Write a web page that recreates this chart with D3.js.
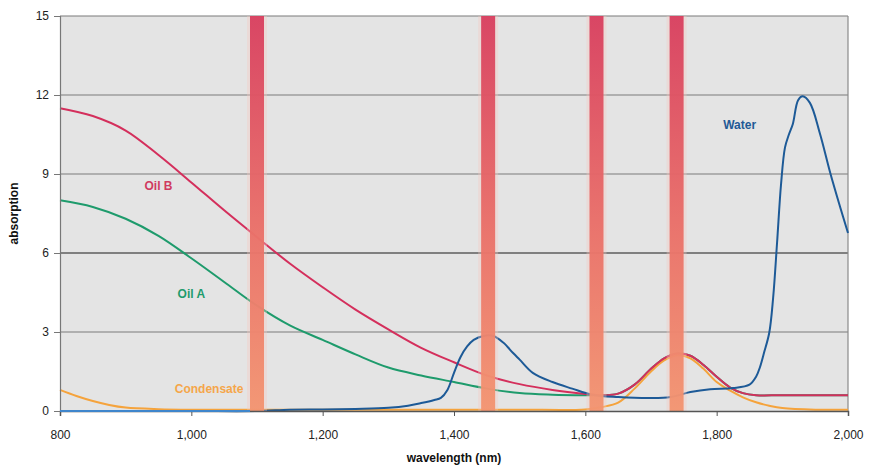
<!DOCTYPE html>
<html lang="en">
<head>
  <meta charset="UTF-8">
  <title>Absorption spectra</title>
  <style>
    body { margin: 0; padding: 0; background: #fff; font-family: Arial, 'Liberation Sans', sans-serif; }
    svg { display: block; }
    .tick text { font-size: 12px; fill: #222; }
    .series { fill: none; stroke-width: 2px; stroke-linejoin: round; }
    .label { font-size: 12px; font-weight: bold; }
    .axis-title { font-size: 12px; font-weight: bold; fill: #111; }
  </style>
</head>
<body>
  <svg width="869" height="472"></svg>

  <script src="https://d3js.org/d3.v7.min.js"></script>
  <script>
    // wavelength ticks and absorption ticks
    const xTicks = [800, 1000, 1200, 1400, 1600, 1800, 2000];
    const yTicks = [0, 3, 6, 9, 12, 15];

    // marked bands (nm)
    const bands = [1100, 1452, 1617, 1739];

    const oilBnm = [800, 850, 900, 950, 1000, 1050, 1100, 1150, 1200, 1250, 1300, 1350, 1400, 1450, 1500, 1550, 1600, 1625, 1650, 1675, 1700, 1720, 1740, 1760, 1780, 1800, 1820, 1840, 1860, 1900, 2000];
    const oilB = [11.5, 11.2, 10.65, 9.72, 8.68, 7.62, 6.6, 5.6, 4.7, 3.85, 3.1, 2.4, 1.85, 1.35, 1.02, 0.8, 0.65, 0.6, 0.66, 1.0, 1.6, 2.0, 2.18, 2.1, 1.75, 1.3, 0.9, 0.68, 0.6, 0.6, 0.6];

    const oilAnm = [800, 850, 900, 950, 1000, 1050, 1100, 1150, 1200, 1250, 1300, 1350, 1400, 1450, 1500, 1550, 1600, 1625, 1650, 1675, 1700, 1720, 1740, 1760, 1780, 1800, 1820, 1840, 1860, 1900, 2000];
    const oilA = [8.0, 7.75, 7.3, 6.65, 5.8, 4.9, 4.0, 3.25, 2.7, 2.15, 1.65, 1.35, 1.1, 0.85, 0.68, 0.62, 0.6, 0.6, 0.66, 1.0, 1.6, 2.0, 2.18, 2.1, 1.75, 1.3, 0.9, 0.68, 0.6, 0.6, 0.6];

    const condNm = [800, 825, 850, 875, 900, 950, 1000, 1100, 1200, 1300, 1400, 1500, 1600, 1625, 1650, 1675, 1700, 1720, 1740, 1760, 1780, 1800, 1820, 1840, 1860, 1880, 1900, 1950, 2000];
    const cond = [0.8, 0.57, 0.38, 0.23, 0.13, 0.07, 0.05, 0.05, 0.05, 0.05, 0.05, 0.05, 0.06, 0.15, 0.32, 0.85, 1.5, 1.92, 2.12, 2.0, 1.6, 1.1, 0.78, 0.52, 0.33, 0.2, 0.11, 0.05, 0.05];

    const waterNm = [800, 1000, 1100, 1150, 1200, 1250, 1300, 1330, 1350, 1370, 1380, 1390, 1400, 1410, 1420, 1430, 1445, 1460, 1475, 1490, 1500, 1520, 1550, 1580, 1610, 1650, 1700, 1730, 1760, 1790, 1825, 1850, 1860, 1866, 1872, 1880, 1886, 1892, 1898, 1904, 1910, 1916, 1924, 1931, 1942, 1957, 1973, 1988, 2000];
    const water = [0, 0, 0, 0.05, 0.06, 0.08, 0.12, 0.2, 0.3, 0.42, 0.5, 0.8, 1.45, 2.05, 2.45, 2.7, 2.85, 2.85, 2.6, 2.2, 1.95, 1.45, 1.1, 0.85, 0.62, 0.53, 0.49, 0.53, 0.72, 0.83, 0.87, 1.0, 1.3, 1.67, 2.2, 2.96, 4.3, 6.4, 8.6, 10.0, 10.5, 10.9, 11.8, 11.95, 11.7, 10.56, 9.04, 7.75, 6.76];

    const margin = { top: 16, right: 21, bottom: 61, left: 60 };
    const width = 869 - margin.left - margin.right;
    const height = 472 - margin.top - margin.bottom;

    const svg = d3.select("svg");
    const g = svg.append("g").attr("transform", `translate(${margin.left},${margin.top})`);

    const x = d3.scaleLinear().domain([800, 2000]).range([0, width]);
    const y = d3.scaleLinear().domain([0, 15]).range([height, 0]);

    // plot background
    g.append("rect")
      .attr("width", width).attr("height", height)
      .attr("fill", "#e4e4e4");

    // horizontal gridlines
    g.append("g").selectAll("line")
      .data(yTicks.filter(d => d > 0))
      .enter().append("line")
      .attr("x1", 0).attr("x2", width)
      .attr("y1", d => y(d)).attr("y2", d => y(d))
      .attr("stroke", d => d === 6 ? "#1a1a1a" : "#7a7a7a")
      .attr("stroke-width", 1.2);

    // right border
    g.append("line")
      .attr("x1", width).attr("x2", width)
      .attr("y1", 0).attr("y2", height)
      .attr("stroke", "#8a8a8a").attr("stroke-width", 1.2);

    // series
    const line = d3.line()
      .x(d => x(d[0]))
      .y(d => y(d[1]))
      .curve(d3.curveCatmullRom.alpha(0.5));

    const series = [
      { name: "Oil A", nm: oilAnm, v: oilA, color: "#1e9b6c" },
      { name: "Condensate", nm: condNm, v: cond, color: "#f5a33c" },
      { name: "Oil B", nm: oilBnm, v: oilB, color: "#d42f5c" },
      { name: "Water", nm: waterNm, v: water, color: "#1d5a97" }
    ];

    g.append("g").selectAll("path")
      .data(series)
      .enter().append("path")
      .attr("class", "series")
      .attr("stroke", d => d.color)
      .attr("d", d => line(d.nm.map((n, i) => [n, d.v[i]])));

    // bands with vertical gradient
    const defs = svg.append("defs");
    const grad = defs.append("linearGradient")
      .attr("id", "bandGrad")
      .attr("x1", 0).attr("x2", 0).attr("y1", 0).attr("y2", 1);
    grad.append("stop").attr("offset", "0%").attr("stop-color", "#d83e5e");
    grad.append("stop").attr("offset", "55%").attr("stop-color", "#ea7068");
    grad.append("stop").attr("offset", "100%").attr("stop-color", "#f39470");

    const bandW = 14;
    const bandG = g.append("g");
    // faint halo round each band
    bandG.selectAll("rect.halo")
      .data(bands)
      .enter().append("rect")
      .attr("class", "halo")
      .attr("x", d => x(d) - bandW / 2 - 3)
      .attr("y", y(15))
      .attr("width", bandW + 6)
      .attr("height", height)
      .attr("fill", "#f6c8c0")
      .attr("opacity", 0.35);
    bandG.selectAll("rect.band")
      .data(bands)
      .enter().append("rect")
      .attr("class", "band")
      .attr("x", d => x(d) - bandW / 2)
      .attr("y", y(15))
      .attr("width", bandW)
      .attr("height", height)
      .attr("fill", "url(#bandGrad)")
      .attr("opacity", 0.95);

    // axes
    const xAxis = g.append("g")
      .attr("transform", `translate(0,${height})`)
      .call(d3.axisBottom(x).tickValues(xTicks).tickSize(5).tickPadding(14).tickFormat(d3.format(",")));
    xAxis.select(".domain").attr("stroke", "#555").attr("stroke-width", 1.5);
    xAxis.selectAll(".tick line").attr("stroke", "#555");

    const yAxis = g.append("g")
      .call(d3.axisLeft(y).tickValues(yTicks).tickSize(6).tickPadding(5));
    yAxis.select(".domain").attr("stroke", "#777").attr("stroke-width", 1.2);
    yAxis.selectAll(".tick line").attr("stroke", "#777");

    // water baseline over the axis
    g.append("line")
      .attr("x1", x(800)).attr("x2", x(1100) - bandW / 2)
      .attr("y1", y(0)).attr("y2", y(0))
      .attr("stroke", "#3f86cc").attr("stroke-width", 2);

    // series labels
    const labels = [
      { text: "Oil B", nm: 950, v: 8.4, color: "#d03a60" },
      { text: "Oil A", nm: 1000, v: 4.3, color: "#1e9b6c" },
      { text: "Condensate", nm: 1027, v: 0.7, color: "#f5a64a" },
      { text: "Water", nm: 1835, v: 10.7, color: "#1f5a96" }
    ];
    g.append("g").selectAll("text")
      .data(labels)
      .enter().append("text")
      .attr("class", "label")
      .attr("x", d => x(d.nm))
      .attr("y", d => y(d.v))
      .attr("text-anchor", "middle")
      .attr("fill", d => d.color)
      .text(d => d.text);

    // axis titles
    g.append("text")
      .attr("class", "axis-title")
      .attr("x", width / 2)
      .attr("y", height + 51)
      .attr("text-anchor", "middle")
      .text("wavelength (nm)");

    g.append("text")
      .attr("class", "axis-title")
      .attr("transform", `translate(${-42},${y(7.5)}) rotate(-90)`)
      .attr("text-anchor", "middle")
      .text("absorption");
  </script>
</body>
</html>
